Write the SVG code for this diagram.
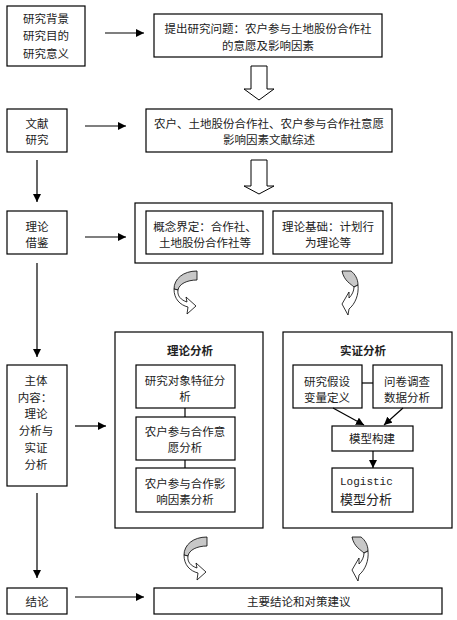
<svg xmlns="http://www.w3.org/2000/svg" width="457" height="620" viewBox="0 0 457 620">
<defs>
<marker id="ah" viewBox="0 0 10 10" refX="10" refY="5" markerWidth="8" markerHeight="8" markerUnits="userSpaceOnUse" orient="auto">
<path d="M0,0 L10,5 L0,10 Z" fill="#000"/>
</marker>
<style>
rect{fill:#fff;stroke:#000;stroke-width:1.2}
text{font-family:"Noto Sans CJK SC","Liberation Serif",serif;font-size:11.5px;fill:#222;text-anchor:middle;dominant-baseline:central}
.b{font-weight:bold}
.c line{stroke:#000;stroke-width:1.2;fill:none}
.blk{fill:#fff;stroke:#000;stroke-width:1}
.g{fill:#c8c8c8;stroke:#000;stroke-width:0.8}
.w{fill:#fff;stroke:#000;stroke-width:0.8}
.mono{font-family:"Liberation Mono",monospace;font-size:11px;text-anchor:start}
</style>
</defs>
<rect x="0" y="0" width="457" height="620" style="fill:#fff;stroke:none"/>

<g id="n_bg"><rect x="7" y="6" width="78" height="60"/>
<text x="46" y="18">研究背景</text><text x="46" y="35">研究目的</text><text x="46" y="53">研究意义</text></g>

<g id="n_q"><rect x="154" y="14" width="228" height="43"/>
<text x="268" y="28">提出研究问题：农户参与土地股份合作社</text><text x="268" y="45">的意愿及影响因素</text></g>

<g id="n_lit"><rect x="7" y="109" width="60" height="43"/>
<text x="37" y="123">文献</text><text x="37" y="139">研究</text></g>

<g id="n_rev"><rect x="146" y="109" width="246" height="43"/>
<text x="269" y="123">农户、土地股份合作社、农户参与合作社意愿</text><text x="269" y="139">影响因素文献综述</text></g>

<g id="n_th"><rect x="7" y="211" width="60" height="43"/>
<text x="37" y="226">理论</text><text x="37" y="242">借鉴</text></g>

<g id="n_thbox"><rect x="135" y="203" width="257" height="60"/></g>
<g id="n_concept"><rect x="146" y="211" width="117" height="43"/>
<text x="205" y="226">概念界定：合作社、</text><text x="205" y="242">土地股份合作社等</text></g>
<g id="n_basis"><rect x="273" y="211" width="110" height="43"/>
<text x="328" y="226">理论基础：计划行</text><text x="328" y="242">为理论等</text></g>

<g id="n_main"><rect x="7" y="365" width="60" height="121"/>
<text x="36" y="380">主体</text><text x="35" y="397">内容：</text><text x="36" y="413">理论</text><text x="36" y="430">分析与</text><text x="36" y="447">实证</text><text x="36" y="464">分析</text></g>

<g id="n_theory"><rect x="115" y="332" width="148" height="196"/>
<text class="b" x="190" y="350">理论分析</text></g>
<g id="n_t1"><rect x="136" y="365" width="99" height="43"/>
<text x="185" y="380">研究对象特征分</text><text x="185" y="396">析</text></g>
<g id="n_t2"><rect x="136" y="417" width="99" height="43"/>
<text x="185" y="431">农户参与合作意</text><text x="185" y="447">愿分析</text></g>
<g id="n_t3"><rect x="136" y="468" width="99" height="44"/>
<text x="185" y="483">农户参与合作影</text><text x="185" y="499">响因素分析</text></g>

<g id="n_emp"><rect x="283" y="332" width="169" height="196"/>
<text class="b" x="363" y="350">实证分析</text></g>
<g id="n_e1"><rect x="293" y="365" width="69" height="43"/>
<text x="327" y="381">研究假设</text><text x="327" y="397">变量定义</text></g>
<g id="n_e2"><rect x="373" y="365" width="69" height="43"/>
<text x="407" y="381">问卷调查</text><text x="407" y="397">数据分析</text></g>
<g id="n_e3"><rect x="332" y="426" width="81" height="25"/>
<text x="372" y="438">模型构建</text></g>
<g id="n_e4"><rect x="332" y="468" width="81" height="44"/>
<text class="mono" x="340" y="482">Logistic</text><text x="340" y="498" style="font-size:13px;text-anchor:start">模型分析</text></g>

<g id="n_con"><rect x="7" y="588" width="60" height="26"/>
<text x="37" y="601">结论</text></g>
<g id="n_sum"><rect x="154" y="588" width="288" height="26"/>
<text x="247" y="601" style="text-anchor:start">主要结论和对策建议</text></g>

<g id="connectors" class="c">
<line x1="105" y1="33" x2="144" y2="33" marker-end="url(#ah)"/>
<line x1="85" y1="126" x2="126" y2="126" marker-end="url(#ah)"/>
<line x1="85" y1="237" x2="126" y2="237" marker-end="url(#ah)"/>
<line x1="75" y1="426" x2="106" y2="426" marker-end="url(#ah)"/>
<line x1="75" y1="597" x2="144" y2="597" marker-end="url(#ah)"/>
<line x1="37" y1="160" x2="37" y2="202" marker-end="url(#ah)"/>
<line x1="37" y1="263" x2="37" y2="357" marker-end="url(#ah)"/>
<line x1="37" y1="493" x2="37" y2="578" marker-end="url(#ah)"/>
<line x1="185" y1="408" x2="185" y2="417"/>
<line x1="185" y1="460" x2="185" y2="468"/>
<line x1="362" y1="383" x2="373" y2="383"/>
<line x1="333" y1="408" x2="364" y2="425" marker-end="url(#ah)"/>
<line x1="403" y1="408" x2="384" y2="425" marker-end="url(#ah)"/>
<line x1="373" y1="451" x2="373" y2="468" marker-end="url(#ah)"/>
<path class="blk" d="M251,66 H267 V89 H274 L259,100 L244,89 H251 Z"/>
<path class="blk" d="M251,160 H267 V186 H274 L259,194 L244,186 H251 Z"/>
<g transform="translate(173,271)">
<path class="g" d="M24,0 L24,9 C14,9 6,13 5,19 L1,18 C1,8 10,0 24,0 Z"/>
<path class="w" d="M1,18 C1,28 7,34 15,36 L14,43 L23,35 L13,26 L14,31 C8,29 4,25 5,19 Z"/>
</g>
<g transform="translate(183,537)">
<path class="g" d="M24,0 L24,9 C14,9 6,13 5,19 L1,18 C1,8 10,0 24,0 Z"/>
<path class="w" d="M1,18 C1,28 7,34 15,36 L14,43 L23,35 L13,26 L14,31 C8,29 4,25 5,19 Z"/>
</g>
<g transform="translate(341,271)">
<path class="g" d="M1,0 L10,0 C14,3 17,8 17,14 L13,16 C10,13 3,10 1,0 Z"/>
<path class="w" d="M17,14 C18,24 14,33 8,38 L7,44 L1,33 L8,21 L8,27 C11,24 13,20 13,16 Z"/>
</g>
<g transform="translate(351,537)">
<path class="g" d="M1,0 L10,0 C14,3 17,8 17,14 L13,16 C10,13 3,10 1,0 Z"/>
<path class="w" d="M17,14 C18,24 14,33 8,38 L7,44 L1,33 L8,21 L8,27 C11,24 13,20 13,16 Z"/>
</g>
</g>
</svg>
